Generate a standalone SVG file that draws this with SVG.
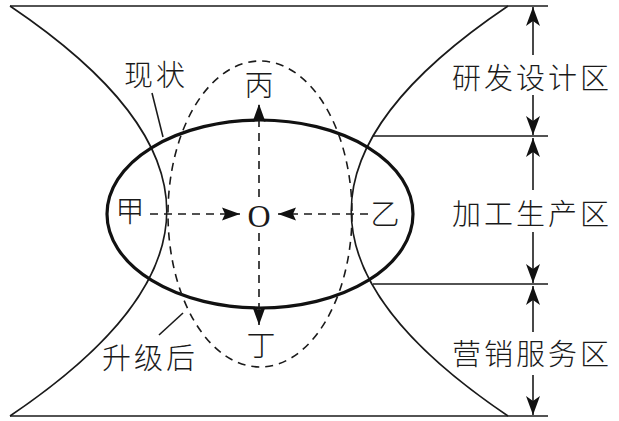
<svg xmlns="http://www.w3.org/2000/svg" width="619" height="421" viewBox="0 0 619 421">
<style>
.thin{fill:none;stroke:#1a1a1a;stroke-width:1.6}
.thick{fill:none;stroke:#111;stroke-width:3.2}
.dash{fill:none;stroke:#1a1a1a;stroke-width:1.6;stroke-dasharray:8 6}
.cn{font-family:"Noto Sans CJK SC","Noto Sans",sans-serif;font-size:29px;font-weight:300;fill:#1a1a1a;dominant-baseline:central}
.o{font-family:"Liberation Serif",serif;font-size:32px;fill:#1a1a1a;dominant-baseline:central;text-anchor:middle}
</style>
<defs>
<marker id="ah" markerUnits="userSpaceOnUse" markerWidth="24" markerHeight="20" refX="0" refY="0" viewBox="-20 -10 24 20" orient="auto" overflow="visible">
<path d="M0,0 L-19,-7 L-14,0 L-19,7 Z" fill="#111"/>
</marker>
<marker id="ah2" markerUnits="userSpaceOnUse" markerWidth="24" markerHeight="20" refX="0" refY="0" viewBox="-20 -10 24 20" orient="auto" overflow="visible">
<path d="M0,0 L-18,-6.5 L-15,0 L-18,6.5 Z" fill="#111"/>
</marker>
</defs>
<rect width="619" height="421" fill="#fff"/>
<g id="frame">
<line class="thin" x1="10" y1="6" x2="548" y2="6"/>
<line class="thin" x1="10" y1="416" x2="548" y2="416"/>
<path class="thin" d="M10,6 C219,147 219,275 10,416"/>
<path class="thin" d="M508,6 C299,147 299,275 508,416"/>
<line class="thin" x1="373" y1="136" x2="548" y2="136"/>
<line class="thin" x1="373" y1="284" x2="548" y2="284"/>
</g>
<g id="current">
<ellipse class="thick" cx="260" cy="214" rx="153" ry="94"/>
</g>
<g id="upgraded">
<ellipse class="dash" cx="260" cy="214" rx="92" ry="153"/>
</g>
<g id="connectors">
<line class="dash" x1="259" y1="197" x2="259" y2="104" marker-end="url(#ah2)"/>
<line class="dash" x1="259" y1="233" x2="259" y2="325" marker-end="url(#ah2)"/>
<line class="dash" x1="150" y1="214" x2="240" y2="214" marker-end="url(#ah2)"/>
<line class="dash" x1="368" y1="214" x2="278" y2="214" marker-end="url(#ah2)"/>
<line class="thin" x1="533" y1="55" x2="533" y2="7" marker-end="url(#ah)"/>
<line class="thin" x1="533" y1="95" x2="533" y2="135" marker-end="url(#ah)"/>
<line class="thin" x1="533" y1="190" x2="533" y2="138" marker-end="url(#ah)"/>
<line class="thin" x1="533" y1="232" x2="533" y2="283" marker-end="url(#ah)"/>
<line class="thin" x1="533" y1="332" x2="533" y2="286" marker-end="url(#ah)"/>
<line class="thin" x1="533" y1="375" x2="533" y2="415" marker-end="url(#ah)"/>
<line class="thin" x1="152" y1="93" x2="163" y2="137"/>
<line class="thin" x1="159" y1="335" x2="183" y2="313"/>
</g>
<g id="labels">
<text class="o" x="259" y="216">O</text>
<text class="cn" x="130" y="209" text-anchor="middle">甲</text>
<text class="cn" x="385" y="212" text-anchor="middle">乙</text>
<text class="cn" x="259" y="83" text-anchor="middle">丙</text>
<text class="cn" x="261" y="343" text-anchor="middle">丁</text>
<text class="cn" x="124" y="73" letter-spacing="3">现状</text>
<text class="cn" x="102" y="356" letter-spacing="3">升级后</text>
<text class="cn" x="452" y="76" letter-spacing="3">研发设计区</text>
<text class="cn" x="452" y="212" letter-spacing="3">加工生产区</text>
<text class="cn" x="452" y="352" letter-spacing="3">营销服务区</text>
</g>
</svg>
